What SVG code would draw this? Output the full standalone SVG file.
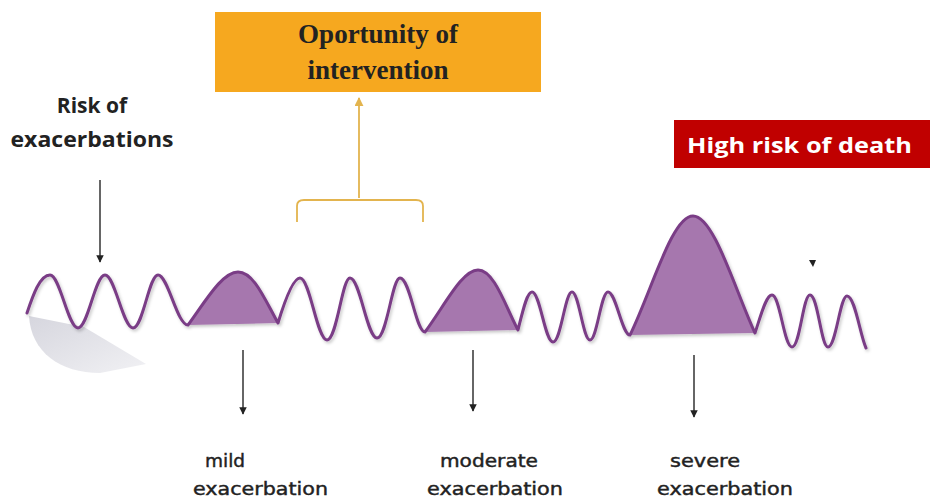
<svg xmlns="http://www.w3.org/2000/svg" width="930" height="500" viewBox="0 0 930 500">
<defs>
<style>
.lbl{font-family:"DejaVu Sans","Liberation Sans",sans-serif;font-size:18.5px;fill:#222;stroke:#222;stroke-width:0.45;}
.blk{stroke:#333;stroke-width:1.5;fill:none;}
.hump{fill:#a677ae;stroke:none;}
.wave{fill:none;stroke:#7a3c86;stroke-width:3;stroke-linejoin:round;stroke-linecap:round;}
</style>
<marker id="ah" viewBox="0 0 10 10" refX="9" refY="5" markerWidth="5" markerHeight="5" orient="auto"><path d="M0,0 L10,5 L0,10 z" fill="#222"/></marker>
<marker id="ahy" viewBox="0 0 10 10" refX="9" refY="5" markerWidth="5" markerHeight="5" orient="auto"><path d="M0,0 L10,5 L0,10 z" fill="#e3b44e"/></marker>
<linearGradient id="sh" x1="0" y1="0" x2="1" y2="1">
<stop offset="0" stop-color="#d6d6de"/>
<stop offset="1" stop-color="#f1f1f4"/>
</linearGradient>
<filter id="ds" x="-5%" y="-20%" width="110%" height="140%">
<feDropShadow dx="1.5" dy="2" stdDeviation="1.5" flood-color="#000" flood-opacity="0.22"/>
</filter>
</defs>
<rect width="930" height="500" fill="#ffffff"/>

<g id="shadow">
<path d="M29,316 C31,352 60,373 100,373 L146,364 L84,327 Z" fill="url(#sh)"/>
</g>

<g id="timeline" filter="url(#ds)">
<path class="hump" d="M188,325 C205,302 222,272 238,272 C254,272 265,300 278,323 Z"/>
<path class="hump" d="M425,332 C445,305 462,270 478,270 C494,270 505,305 518,330 Z"/>
<path class="hump" d="M630,335 C652,290 672,216 693,216 C714,216 735,290 755,333 Z"/>
<path class="wave" d="M27,313 C33,295 40,275 50,275 C60,275 68,328 78,328 C88,328 95,275 105,275 C115,275 123,328 133,328 C143,328 149,275 158,275 C168,275 177,325 188,325 C205,302 222,272 238,272 C254,272 265,300 278,323 C285,300 293,278 300,278 C310,278 317,340 327,340 C337,340 342,278 350,278 C360,278 367,338 377,338 C387,338 392,278 400,278 C410,278 416,332 425,332 C445,305 462,270 478,270 C494,270 505,305 518,330 C523,310 527,292 532,292 C540,292 545,342 553,342 C561,342 565,292 572,292 C579,292 583,340 590,340 C597,340 601,292 608,292 C616,292 622,335 630,335 C652,290 672,216 693,216 C714,216 735,290 755,333 C761,315 766,295 772,295 C780,295 784,347 792,347 C800,347 803,295 810,295 C818,295 821,347 828,347 C836,347 840,296 847,296 C855,296 860,335 866,348"/>
</g>

<g id="opportunity">
<rect x="215" y="12" width="326" height="80" fill="#f6a81f"/>
<text x="378" y="43" text-anchor="middle" font-family="Liberation Serif, serif" font-weight="bold" font-size="27" fill="#222">Oportunity of</text>
<text x="378" y="79" text-anchor="middle" font-family="Liberation Serif, serif" font-weight="bold" font-size="27" fill="#222">intervention</text>
</g>

<g id="risk">
<text x="92" y="113" text-anchor="middle" font-family="Open Sans, sans-serif" font-weight="bold" font-size="21" fill="#222">Risk of</text>
<text x="92" y="147" text-anchor="middle" font-family="Open Sans, sans-serif" font-weight="bold" font-size="21" fill="#222" textLength="163" lengthAdjust="spacingAndGlyphs">exacerbations</text>
</g>

<g id="death">
<rect x="674" y="120" width="256" height="48" fill="#c00000"/>
<text x="687" y="153" font-family="Open Sans, sans-serif" font-weight="bold" font-size="22" fill="#ffffff" textLength="225" lengthAdjust="spacingAndGlyphs">High risk of death</text>
</g>

<g id="mild">
<text class="lbl" x="205" y="467">mild</text>
<text class="lbl" x="193" y="495" textLength="135" lengthAdjust="spacingAndGlyphs">exacerbation</text>
</g>
<g id="moderate">
<text class="lbl" x="440" y="467" textLength="98" lengthAdjust="spacingAndGlyphs">moderate</text>
<text class="lbl" x="427" y="495" textLength="136" lengthAdjust="spacingAndGlyphs">exacerbation</text>
</g>
<g id="severe">
<text class="lbl" x="670" y="467" textLength="70" lengthAdjust="spacingAndGlyphs">severe</text>
<text class="lbl" x="657" y="495" textLength="136" lengthAdjust="spacingAndGlyphs">exacerbation</text>
</g>

<g id="connectors">
<line class="blk" x1="100" y1="180" x2="100" y2="262" marker-end="url(#ah)"/>
<line class="blk" x1="243" y1="350" x2="243" y2="414" marker-end="url(#ah)"/>
<line class="blk" x1="473" y1="350" x2="473" y2="411" marker-end="url(#ah)"/>
<line class="blk" x1="694" y1="355" x2="694" y2="417" marker-end="url(#ah)"/>
<path d="M809,260 L816,260 L813,267 Z" fill="#222"/>
<line x1="359" y1="198" x2="359" y2="98" stroke="#e3b44e" stroke-width="1.8" marker-end="url(#ahy)"/>
<path d="M297,222 L297,206 Q297,200 304,200 L416,200 Q423,200 423,206 L423,222" fill="none" stroke="#e3b44e" stroke-width="1.8"/>
</g>
</svg>
